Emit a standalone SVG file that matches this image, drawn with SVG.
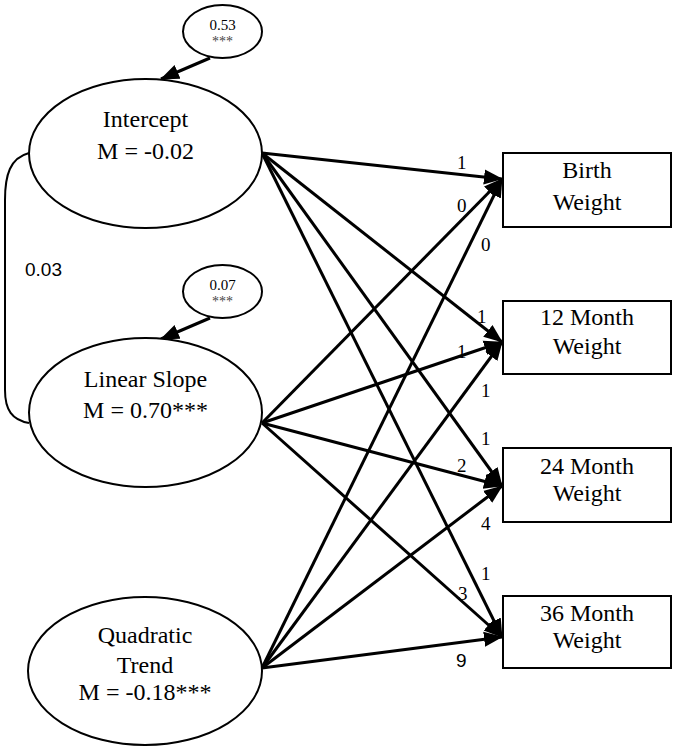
<svg xmlns="http://www.w3.org/2000/svg" width="676" height="750" viewBox="0 0 676 750">
<style>
  .shape { fill: #fff; stroke: #000; stroke-width: 2; }
  .t { font-family: "Liberation Serif", "Times New Roman", Times, serif; font-size: 24px; fill: #000; text-anchor: middle; }
  .small { font-family: "Liberation Serif", "Times New Roman", Times, serif; font-size: 15px; fill: #000; text-anchor: middle; }
  .star { font-family: "Liberation Serif", "Times New Roman", Times, serif; font-size: 14px; fill: #444; text-anchor: middle; }
  .lbl { font-family: "Liberation Serif", "Times New Roman", Times, serif; font-size: 19px; fill: #000; }
  .lbls { font-family: "Liberation Sans", Arial, sans-serif; font-size: 19px; fill: #000; }
  .edge { stroke: #000; stroke-width: 3; fill: none; marker-end: url(#arr); }
  .cov { stroke: #000; stroke-width: 2; fill: none; }
</style>
<defs>
  <marker id="arr" markerUnits="userSpaceOnUse" markerWidth="20" markerHeight="18" viewBox="0 0 20 18" refX="18" refY="9" orient="auto">
    <path d="M0,1.5 L19,9 L0,16.5 z" fill="#000"/>
  </marker>
</defs>
<rect width="676" height="750" fill="#fff"/>

<g id="connectors">
  <line class="edge" x1="210" y1="58" x2="161" y2="79"/>
  <line class="edge" x1="210" y1="318" x2="161" y2="339"/>
  <path class="cov" d="M29,153 C10,158 5,175 5,200 L5,390 C5,410 12,420 29,423"/>
  <line class="edge" x1="262" y1="153" x2="502" y2="179"/>
  <line class="edge" x1="262" y1="153" x2="502" y2="342"/>
  <line class="edge" x1="262" y1="153" x2="502" y2="486"/>
  <line class="edge" x1="262" y1="153" x2="502" y2="637"/>
  <line class="edge" x1="262" y1="423" x2="502" y2="179"/>
  <line class="edge" x1="262" y1="423" x2="502" y2="342"/>
  <line class="edge" x1="262" y1="423" x2="502" y2="486"/>
  <line class="edge" x1="262" y1="423" x2="502" y2="637"/>
  <line class="edge" x1="262" y1="668" x2="502" y2="179"/>
  <line class="edge" x1="262" y1="668" x2="502" y2="342"/>
  <line class="edge" x1="262" y1="668" x2="502" y2="486"/>
  <line class="edge" x1="262" y1="668" x2="502" y2="637"/>
</g>

<g id="labels">
  <text class="lbls" x="25" y="276">0.03</text>
  <text class="lbl" x="457" y="169">1</text>
  <text class="lbl" x="457" y="212">0</text>
  <text class="lbl" x="481" y="251">0</text>
  <text class="lbl" x="477" y="323">1</text>
  <text class="lbl" x="457" y="358">1</text>
  <text class="lbl" x="481" y="397">1</text>
  <text class="lbl" x="481" y="445">1</text>
  <text class="lbl" x="457" y="472">2</text>
  <text class="lbl" x="481" y="530">4</text>
  <text class="lbl" x="481" y="580">1</text>
  <text class="lbl" x="458" y="600">3</text>
  <text class="lbls" x="456" y="667">9</text>
</g>

<g id="var_intercept">
  <ellipse class="shape" cx="222.5" cy="31.5" rx="39.5" ry="26.5"/>
  <text class="small" x="222.5" y="30">0.53</text>
  <text class="star" x="222.5" y="46">***</text>
</g>
<g id="var_slope">
  <ellipse class="shape" cx="222.5" cy="291.5" rx="39.5" ry="26.5"/>
  <text class="small" x="222.5" y="290">0.07</text>
  <text class="star" x="222.5" y="306">***</text>
</g>

<g id="intercept">
  <ellipse class="shape" cx="145.5" cy="153.5" rx="116.5" ry="74.5"/>
  <text class="t" x="145.5" y="127">Intercept</text>
  <text class="t" x="145.5" y="159">M = -0.02</text>
</g>
<g id="slope">
  <ellipse class="shape" cx="145.5" cy="412.5" rx="116.5" ry="74.5"/>
  <text class="t" x="145.5" y="387">Linear Slope</text>
  <text class="t" x="145.5" y="418">M = 0.70***</text>
</g>
<g id="quadratic">
  <ellipse class="shape" cx="145" cy="671" rx="117" ry="74"/>
  <text class="t" x="145" y="643">Quadratic</text>
  <text class="t" x="145" y="673">Trend</text>
  <text class="t" x="145" y="700">M = -0.18***</text>
</g>

<g id="birth">
  <rect class="shape" x="503" y="153" width="168" height="74"/>
  <text class="t" x="587" y="178">Birth</text>
  <text class="t" x="587" y="210">Weight</text>
</g>
<g id="m12">
  <rect class="shape" x="503" y="301" width="168" height="73"/>
  <text class="t" x="587" y="325">12 Month</text>
  <text class="t" x="587" y="354">Weight</text>
</g>
<g id="m24">
  <rect class="shape" x="503" y="448" width="168" height="74"/>
  <text class="t" x="587" y="474">24 Month</text>
  <text class="t" x="587" y="501">Weight</text>
</g>
<g id="m36">
  <rect class="shape" x="503" y="596" width="168" height="72"/>
  <text class="t" x="587" y="621">36 Month</text>
  <text class="t" x="587" y="648">Weight</text>
</g>
</svg>
